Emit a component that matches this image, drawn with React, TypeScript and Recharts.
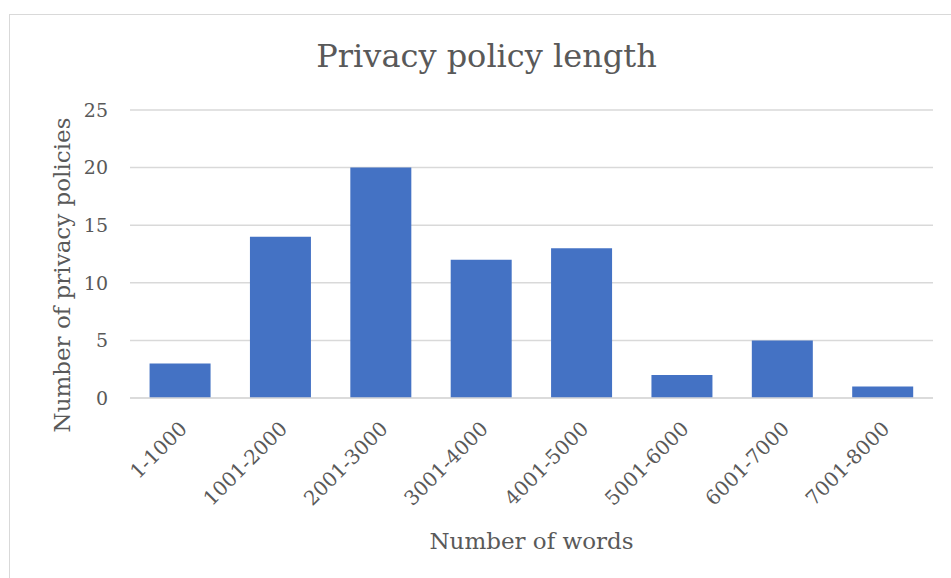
import React from "react";
import { BarChart, Bar, XAxis, YAxis, CartesianGrid, Label } from "recharts";

const categories = ["1-1000", "1001-2000", "2001-3000", "3001-4000", "4001-5000", "5001-6000", "6001-7000", "7001-8000"];
const counts = [3, 14, 20, 12, 13, 2, 5, 1];
const yTicks = [0, 5, 10, 15, 20, 25];

const data = categories.map((c, i) => ({ name: c, value: counts[i] }));

const FONT = "'DejaVu Serif', serif";
const TEXT = "#595959";

const XTick = (props: any) => {
  const { x, y, payload } = props;
  return (
    <g transform={`translate(${x + 8},${y + 24})`}>
      <text
        textAnchor="end"
        transform="rotate(-45)"
        fill={TEXT}
        fontFamily={FONT}
        fontSize={20}
      >
        {payload.value}
      </text>
    </g>
  );
};

const YTitle = () => (
  <text
    x={62}
    y={275}
    transform="rotate(-90 62 275)"
    textAnchor="middle"
    dominantBaseline="central"
    fill={TEXT}
    fontFamily={FONT}
    fontSize={23}
  >
    Number of privacy policies
  </text>
);

export default function App() {
  return (
    <div style={{ position: "absolute", left: 0, top: 0, width: 951, height: 578, background: "#fff", overflow: "hidden" }}>
      <div
        style={{
          position: "absolute",
          left: 9,
          top: 14,
          width: 960,
          height: 600,
          borderLeft: "1.5px solid #d9d9d9",
          borderTop: "1.5px solid #d9d9d9",
        }}
      />
      <div
        style={{
          position: "absolute",
          left: 0,
          top: 34,
          width: 973,
          textAlign: "center",
          fontFamily: FONT,
          fontSize: 32,
          color: TEXT,
          lineHeight: "44px",
        }}
      >
        Privacy policy length
      </div>
      <div style={{ position: "absolute", left: 0, top: 0 }}>
        <BarChart
          width={951}
          height={578}
          data={data}
          margin={{ top: 110, right: 18, bottom: 20, left: 0 }}
          barCategoryGap="19.5%"
        >
          <CartesianGrid vertical={false} stroke="#d9d9d9" strokeWidth={1.5} />
          <XAxis
            dataKey="name"
            height={160}
            axisLine={{ stroke: "#d9d9d9", strokeWidth: 1.5 }}
            tickLine={false}
            interval={0}
            tick={<XTick />}
          >
            <Label
              value="Number of words"
              position="insideBottom"
              offset={9}
              fill={TEXT}
              fontFamily={FONT}
              fontSize={23}
            />
          </XAxis>
          <YAxis
            width={130}
            domain={[0, 25]}
            ticks={yTicks}
            axisLine={false}
            tickLine={false}
            tickSize={0}
            tickMargin={22}
            tick={{ fill: TEXT, fontFamily: FONT, fontSize: 19 }}
          >
            <Label content={<YTitle />} />
          </YAxis>
          <Bar dataKey="value" fill="#4472C4" isAnimationActive={false} />
        </BarChart>
      </div>
    </div>
  );
}
